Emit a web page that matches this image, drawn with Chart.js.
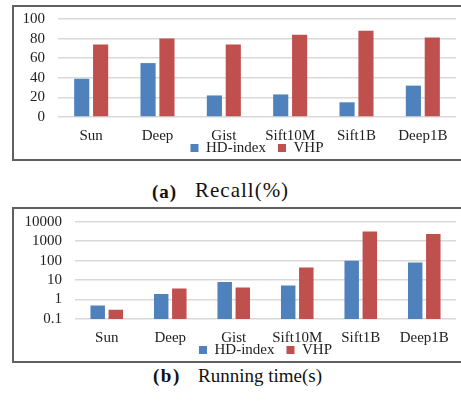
<!DOCTYPE html>
<html><head><meta charset="utf-8">
<script src="https://cdn.jsdelivr.net/npm/chart.js@4.4.1/dist/chart.umd.min.js"></script>
<style>
html,body{margin:0;padding:0;background:#fff;width:461px;height:407px;overflow:hidden;position:relative;font-family:"Liberation Serif","DejaVu Serif",serif}
.box{position:absolute;left:12px;width:452px;height:152px;border:2px solid #606060;}
.box canvas{display:block}
.cap{position:absolute;font-size:19px;line-height:19px;color:#111;white-space:nowrap}
</style></head><body>
<div class="box" style="top:5px"><canvas id="c1" width="452" height="152"></canvas></div>
<div class="cap" style="top:182px;left:152px;letter-spacing:1px"><b>(a)</b></div>
<div class="cap" style="top:181px;left:195px;font-size:21px;letter-spacing:1px">Recall(%)</div>
<div class="box" style="top:207px"><canvas id="c2" width="452" height="152"></canvas></div>
<div class="cap" style="top:366px;left:153px;letter-spacing:1.5px"><b>(b)</b></div>
<div class="cap" style="top:366px;left:198px;">Running time(s)</div>
<script>
const categories = ['Sun', 'Deep', 'Gist', 'Sift10M', 'Sift1B', 'Deep1B'];
const seriesNames = ['HD-index', 'VHP'];
const recallHD = [39, 55, 22, 23, 15, 32];
const recallVHP = [74, 80, 74, 84, 88, 81];
const timeHD = [0.5, 1.9, 7.9, 5.3, 98, 80];
const timeVHP = [0.3, 3.7, 4.2, 44, 3100, 2350];
const recallTicks = [0, 20, 40, 60, 80, 100];
const timeTicks = [0.1, 1, 10, 100, 1000, 10000];

const BLUE = '#4F81BD', RED = '#C0504D';
const FONT = {family: '"Liberation Serif", "DejaVu Serif", serif', size: 15};
const TXT = '#222';
const GRID = '#d9d9d9';

function makeChart(id, hd, vhp, yScale, yWidth, topPad, legendTop) {
  return new Chart(document.getElementById(id), {
    type: 'bar',
    data: {
      labels: categories,
      datasets: [
        {label: seriesNames[0], data: hd, backgroundColor: BLUE, borderWidth: 0},
        {label: seriesNames[1], data: vhp, backgroundColor: RED, borderWidth: 0}
      ]
    },
    options: {
      responsive: false,
      animation: false,
      devicePixelRatio: 1,
      categoryPercentage: 0.57,
      barPercentage: 0.8,
      layout: {padding: {top: topPad, right: 10, left: 0, bottom: 0}},
      plugins: {
        tooltip: {enabled: false},
        legend: {
          position: 'bottom',
          fullSize: false,
          maxHeight: 16,
          labels: {boxWidth: 8, boxHeight: 8, padding: 12, color: TXT, font: FONT}
        }
      },
      scales: {
        x: {
          grid: {display: false, drawTicks: false},
          border: {display: false},
          ticks: {color: TXT, font: FONT, padding: 10, maxRotation: 0, autoSkip: false},
          afterFit: s => { s.height = 26; }
        },
        y: Object.assign({
          grid: {color: GRID, lineWidth: 1.5, drawTicks: false},
          border: {display: false},
          afterFit: s => { s.width = yWidth; s.paddingTop = 0; s.paddingBottom = 0; }
        }, yScale)
      }
    },
    plugins: [{
      id: 'legendShift',
      afterLayout(chart) {
        const lg = chart.legend;
        lg.top = legendTop;
        lg.height = 30;
        lg.bottom = legendTop + 30;
      }
    }]
  });
}

makeChart('c1', recallHD, recallVHP, {
  min: 0, max: 100,
  ticks: {color: TXT, font: FONT, padding: 13, autoSkip: false},
  afterBuildTicks: s => { s.ticks = recallTicks.map(v => ({value: v})); }
}, 44, 12, 121.5);

makeChart('c2', timeHD, timeVHP, {
  type: 'logarithmic',
  min: 0.1, max: 10000,
  ticks: {color: TXT, font: FONT, padding: 13, autoSkip: false, callback: v => String(v)},
  afterBuildTicks: s => { s.ticks = timeTicks.map(v => ({value: v})); }
}, 61, 12.7, 121.5);
</script>
</body></html>
